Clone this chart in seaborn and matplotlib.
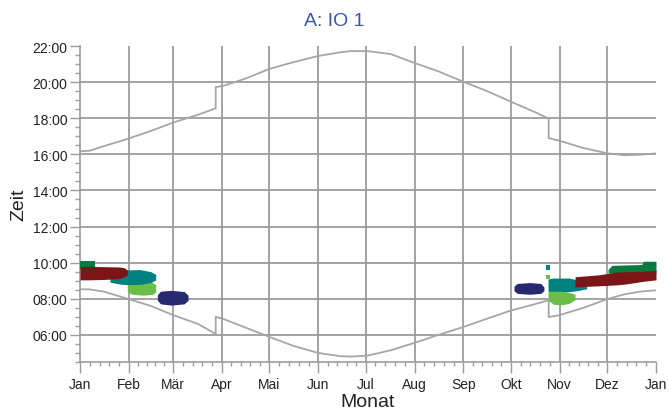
import numpy as np
import pandas as pd
import seaborn as sns
import matplotlib.pyplot as plt

sns.set_theme(style="white")
plt.rcParams['font.family'] = ['Liberation Sans', 'DejaVu Sans']

# month labels at day-of-year
month_days = [0, 31, 59, 90, 120, 151, 181, 212, 243, 273, 304, 334, 365]
month_labels = ['Jan', 'Feb', 'Mär', 'Apr', 'Mai', 'Jun', 'Jul', 'Aug', 'Sep', 'Okt', 'Nov', 'Dez', 'Jan']
hour_ticks = [6, 8, 10, 12, 14, 16, 18, 20, 22]
hour_labels = ['06:00', '08:00', '10:00', '12:00', '14:00', '16:00', '18:00', '20:00', '22:00']

# sunset (upper gray line), with DST jumps
sunset_day = [0, 6, 15, 31, 45, 59, 75, 86, 86, 91, 105, 120, 135, 151, 165, 172, 182, 197, 212,
              227, 243, 258, 273, 288, 297, 297, 304, 319, 334, 345, 355, 365]
sunset_h = [16.17, 16.2, 16.45, 16.88, 17.3, 17.76, 18.2, 18.55, 19.72, 19.8, 20.2, 20.73, 21.1, 21.45,
            21.65, 21.72, 21.72, 21.55, 21.06, 20.6, 20.02, 19.5, 18.92, 18.35, 17.98, 16.9, 16.75,
            16.35, 16.06, 15.95, 15.98, 16.05]

# sunrise (lower gray line)
sunrise_day = sunset_day
sunrise_h = [8.53, 8.52, 8.4, 7.98, 7.6, 7.1, 6.6, 6.05, 7.0, 6.88, 6.4, 5.89, 5.4, 5.0, 4.82, 4.8,
             4.85, 5.15, 5.56, 6.0, 6.44, 6.9, 7.35, 7.7, 7.92, 6.99, 7.1, 7.5, 7.98, 8.25, 8.4, 8.47]

# glare periods: (days, start hour, end hour) per colour
navy = '#272a6e'
lgreen = '#6cbd48'
teal = '#00807e'
dgreen = '#0b7a3e'
dred = '#7b1518'

blobs = [
    # January - March
    (navy, [49, 51, 58, 66, 68.5], [7.92, 7.72, 7.65, 7.72, 7.92], [8.22, 8.42, 8.47, 8.4, 8.2]),
    (lgreen, [30, 33, 40, 46, 48], [8.4, 8.25, 8.2, 8.25, 8.38], [8.78, 8.9, 8.92, 8.9, 8.78]),
    (teal, [19, 25, 30, 38, 45, 48], [8.92, 8.82, 8.78, 8.8, 8.9, 9.05],
     [9.3, 9.45, 9.6, 9.62, 9.5, 9.35]),
    (dgreen, [0, 9.5], [9.65, 9.65], [10.1, 10.1]),
    (dred, [0, 5, 15, 25, 28, 30], [9.05, 9.05, 9.07, 9.12, 9.22, 9.32],
     [9.78, 9.8, 9.78, 9.76, 9.72, 9.6]),
    # October - December
    (navy, [275, 277, 285, 292, 294], [8.45, 8.3, 8.25, 8.3, 8.45], [8.7, 8.85, 8.9, 8.85, 8.65]),
    (teal, [295, 297.6], [9.58, 9.58], [9.88, 9.88]),
    (lgreen, [295, 297.6], [9.12, 9.12], [9.34, 9.34]),
    (teal, [296.6, 300, 305, 310, 315, 321], [8.42, 8.38, 8.36, 8.4, 8.45, 8.55],
     [9.1, 9.15, 9.15, 9.15, 9.05, 8.8]),
    (lgreen, [296.6, 300, 305, 310, 313.7], [7.92, 7.7, 7.66, 7.75, 7.95], [8.4, 8.42, 8.42, 8.35, 8.25]),
    (dgreen, [334.6, 337, 356, 357, 365], [9.42, 9.42, 9.44, 9.45, 9.46], [9.62, 9.85, 9.9, 10.08, 10.08]),
    (dred, [313.7, 329, 340, 346, 357, 365], [8.66, 8.72, 8.77, 8.82, 8.97, 9.05],
     [9.22, 9.33, 9.48, 9.5, 9.53, 9.57]),
]

grid_col = '#9c9c9c'
line_col = '#a6a6a6'

fig = plt.figure(figsize=(6.69, 4.14), dpi=100)
ax = fig.add_axes([80 / 669, 1 - 363 / 414, 576 / 669, 316 / 414])

for col, d, lo, hi in blobs:
    ax.fill_between(d, lo, hi, color=col, linewidth=0, zorder=3)

sun = pd.DataFrame({'day': sunset_day, 'sunset': sunset_h, 'sunrise': sunrise_h})
sns.lineplot(data=sun, x='day', y='sunset', sort=False, estimator=None, color=line_col,
             linewidth=1.3, ax=ax, zorder=2)
sns.lineplot(data=sun, x='day', y='sunrise', sort=False, estimator=None, color=line_col,
             linewidth=1.3, ax=ax, zorder=2)

ax.set_xlim(0, 365)
ax.set_ylim(4.62, 22)
ax.set_xticks(month_days)
ax.set_xticklabels(month_labels)
ax.set_yticks(hour_ticks)
ax.set_yticklabels(hour_labels)

minor_x = []
for a, b in zip(month_days[:-1], month_days[1:]):
    minor_x += [a + (b - a) * k / 5 for k in range(1, 5)]
ax.set_xticks(minor_x, minor=True)
ax.set_yticks(np.arange(4.5, 22, 0.5), minor=True)

ax.grid(True, which='major', color=grid_col, linewidth=1.3, zorder=1)
ax.set_axisbelow(True)
ax.get_ygridlines()[-1].set_visible(False)
ax.get_xgridlines()[-1].set_visible(False)
ax.get_xgridlines()[0].set_visible(False)

for s in ['top', 'right']:
    ax.spines[s].set_visible(False)
for s in ['left', 'bottom']:
    ax.spines[s].set_color(grid_col)
    ax.spines[s].set_linewidth(1.2)

ax.tick_params(axis='y', which='major', direction='out', length=7.5, width=1, color=grid_col,
               labelsize=10, pad=1.5, left=True, labelcolor='#222222')
ax.tick_params(axis='y', which='minor', direction='out', length=3.8, width=1, color=grid_col, left=True)
ax.tick_params(axis='x', which='major', direction='out', length=8, width=1, color=grid_col,
               labelsize=10, pad=2.5, bottom=True, labelcolor='#222222')
ax.tick_params(axis='x', which='minor', direction='out', length=3, width=1, color=grid_col, bottom=True)

ax.set_xlabel('Monat', fontsize=14, labelpad=2, color='#222222')
ax.set_ylabel('Zeit', fontsize=14, labelpad=4, color='#222222')
fig.text(0.5, 1 - 22 / 414, 'A: IO 1', ha='center', va='center', fontsize=14, color='#3a57a6')

fig.savefig('out.png', dpi=100)
